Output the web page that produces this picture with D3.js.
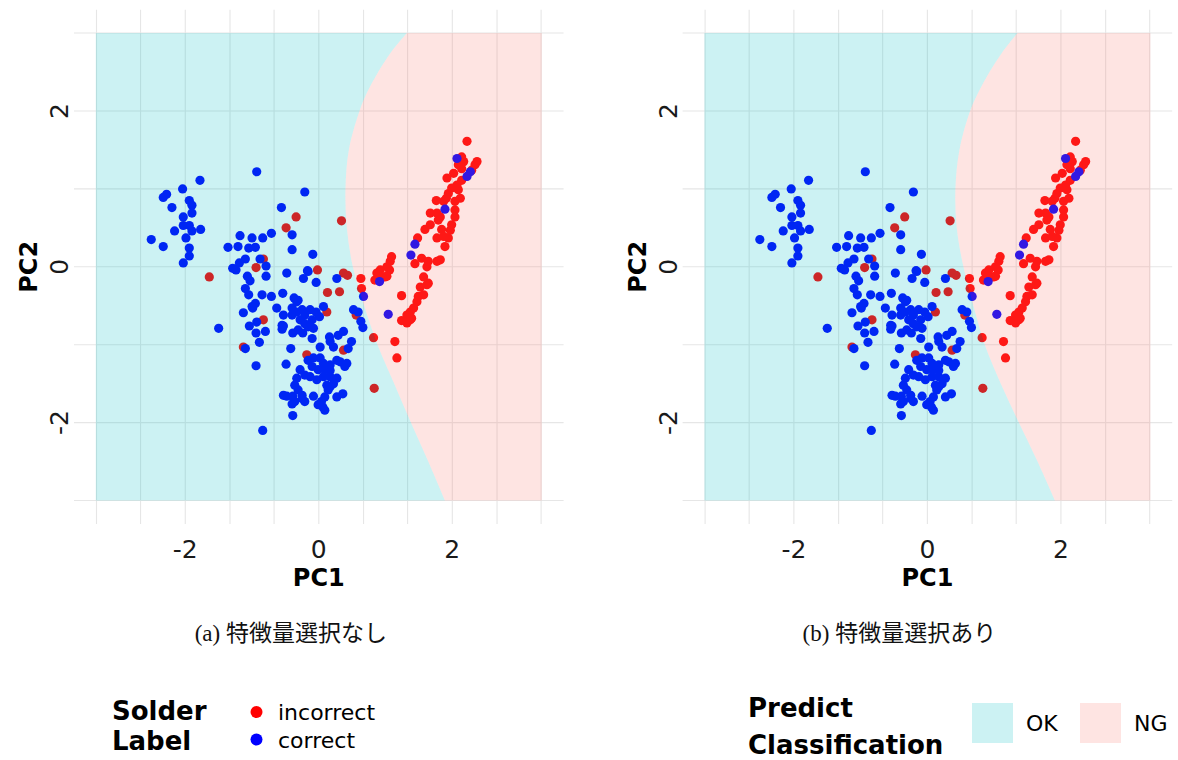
<!DOCTYPE html>
<html>
  <head>
    <meta charset="utf-8">
    <title>PCA decision regions</title>
    <script src="https://cdn.jsdelivr.net/npm/d3@7"></script>
	<style>
body {
  margin: 0;
  background: #fff;
}
.tick-label {
  font: 25px "DejaVu Sans", sans-serif;
  fill: #1a1a1a;
}
.axis-title {
  font: bold 24px "DejaVu Sans", sans-serif;
  fill: #000;
}
.grid line {
  stroke: #e6e6e6;
  stroke-width: 1.1px;
}
.caption {
  font-size: 23px;
  fill: #111;
}
.leg-title {
  font: bold 26px "DejaVu Sans", sans-serif;
}
.leg-text {
  font: 22px "DejaVu Sans", sans-serif;
}
	</style>
  </head>
  <body>
<script>

// points (same data shown in both panels)
var correctX = [-0.93,-1.78,-2.04,-2.28,-2.33,-2.20,-1.94,-1.90,-1.90,-2.03,-2.03,-1.94,-1.90,-1.77,-2.16,-1.99,-2.51,-2.33,-1.94,-1.94,-2.03,
  -0.21,-0.56,-0.40,-0.40,-0.71,-0.84,-1.00,-1.18,-1.36,-1.21,-1.05,-0.95,-1.10,-1.19,-0.88,-0.79,-1.29,-1.24,-0.79,-0.48,-0.17,-0.23,
  -1.07,-1.03,-1.10,-1.05,-0.85,-0.71,-0.54,-0.95,-0.99,-1.13,-0.63,-0.53,-0.37,-0.31,-0.40,-1.04,-0.93,-0.53,-1.50,-0.16,-0.04,0.27,
  0.91,-0.33,0.67,-1.00,-0.94,-0.80,-0.40,-0.33,-0.25,-0.21,-0.13,-0.04,0.07,0.01,0.52,0.59,0.63,0.66,1.04,-0.28,-0.21,-0.10,-0.16,
  -0.55,-0.55,-0.39,-0.31,-0.24,-0.08,-1.10,-0.89,-0.42,-0.10,0.16,0.17,0.22,0.02,0.29,0.37,0.49,0.44,-0.94,-0.49,-0.16,-0.08,0.02,
  0.07,0.17,-0.10,-0.01,0.09,0.17,0.27,0.32,0.39,0.42,-0.28,-0.33,-0.36,-0.21,-0.13,-0.03,0.07,0.17,0.27,0.12,0.17,0.22,-0.31,-0.25,
  0.14,0.09,0.04,0.27,0.36,-0.53,-0.48,-0.39,-0.40,-0.36,-0.21,-0.25,-0.08,-0.01,0.06,0.09,-0.39,-0.84,2.07,2.27,2.22,1.89,1.44,1.38,-0.09];
var correctY = [1.22,1.11,1.00,0.93,0.89,0.76,0.85,0.79,0.69,0.64,0.53,0.53,0.46,0.48,0.46,0.37,0.35,0.26,0.24,0.14,0.05,
  0.96,0.76,0.41,0.22,0.43,0.37,0.37,0.40,0.25,0.26,0.24,0.25,0.10,0.05,0.10,0.01,-0.02,-0.04,-0.12,-0.08,-0.05,-0.15,
  -0.12,-0.18,-0.28,-0.36,-0.36,-0.38,-0.34,-0.47,-0.53,-0.59,-0.53,-0.62,-0.40,-0.43,-0.53,-0.76,-0.71,-0.76,-0.79,-0.06,-0.20,-0.15,
  -0.19,-0.45,-0.38,-0.51,-0.85,-0.83,-0.62,-0.58,-0.55,-0.62,-0.55,-0.58,-0.51,-0.64,-0.55,-0.58,-0.70,-0.78,-0.61,-0.68,-0.73,-0.68,-0.77,
  -0.75,-0.80,-0.85,-0.81,-0.85,-0.79,-1.05,-0.97,-1.05,-0.92,-0.90,-0.96,-1.03,-1.03,-0.88,-0.83,-0.96,-1.05,-1.27,-1.25,-1.20,-1.17,-1.17,
  -1.24,-1.26,-1.28,-1.32,-1.32,-1.33,-1.20,-1.22,-1.28,-1.24,-1.32,-1.43,-1.52,-1.39,-1.41,-1.45,-1.41,-1.41,-1.43,-1.52,-1.54,-1.50,-1.58,-1.65,
  -1.58,-1.67,-1.73,-1.67,-1.63,-1.65,-1.66,-1.66,-1.76,-1.73,-1.73,-1.69,-1.66,-1.77,-1.80,-1.84,-1.91,-2.10,1.39,1.22,1.16,0.74,0.29,0.15,0.16];

var incorrectX = [-0.34,-0.49,-0.83,-0.94,-1.64,-0.83,0.34,-0.02,0.37,0.43,0.13,0.31,0.12,0.56,-1.13,0.37,0.82,-0.18,0.83,
  2.22,2.14,2.17,2.09,2.37,2.34,2.29,2.02,1.92,2.14,2.07,1.99,2.09,1.94,1.91,2.12,2.04,1.76,1.87,2.04,2.04,1.67,1.77,1.82,1.79,
  1.67,1.59,1.84,1.99,1.97,1.77,1.87,1.94,1.89,1.48,1.09,1.07,1.02,0.92,0.89,0.99,0.84,1.44,1.54,1.64,1.77,1.62,1.82,1.57,1.62,
  1.64,1.52,1.24,1.49,1.57,1.47,1.42,1.37,1.32,1.39,1.24,1.32,1.37,1.14,1.17,0.63,0.64,0.87,1.02,1.06,2.14];
var incorrectY = [0.64,0.50,0.10,-0.01,-0.13,-0.68,0.59,-0.04,-0.08,-0.11,-0.33,-0.32,-0.58,-0.62,-1.03,-1.07,-0.91,-1.13,-1.56,
  1.61,1.41,1.35,1.31,1.35,1.31,1.24,1.20,1.14,1.11,1.05,1.01,0.99,0.94,0.88,0.88,0.84,0.85,0.84,0.73,0.64,0.69,0.69,0.64,0.60,
  0.54,0.48,0.48,0.54,0.47,0.37,0.39,0.37,0.26,0.37,0.13,0.07,0.00,-0.04,-0.13,-0.13,-0.17,0.04,0.11,0.07,0.07,0.00,0.09,-0.13,-0.23,
  -0.21,-0.26,-0.37,-0.38,-0.36,-0.45,-0.53,-0.58,-0.62,-0.66,-0.69,-0.72,-0.68,-0.96,-1.17,-0.15,-0.28,-0.08,-0.12,-0.04,1.26];

// decision boundary (PC1 value where OK turns into NG, for each PC2 level)
var boundaryY = [-3, -2.5, -2, -1.5, -1, -0.5, 0, 0.5, 1, 1.5, 2, 2.25, 2.5, 2.75, 3];
var boundaryA = [1.89, 1.64, 1.38, 1.13, 0.88, 0.68, 0.51, 0.42, 0.40, 0.45, 0.61, 0.73, 0.89, 1.08, 1.32];
var boundaryB = [1.91, 1.65, 1.37, 1.10, 0.86, 0.69, 0.54, 0.44, 0.42, 0.48, 0.64, 0.77, 0.93, 1.12, 1.35];

var regionX = [-3.34, 3.34];
var regionY = [-3, 3];

var xTicks = [-2, 0, 2];
var yTicks = [-2, 0, 2];
var xGrid = [-3.33, -2.67, -2, -1.33, -0.67, 0, 0.67, 1.33, 2, 2.67, 3.33];
var yGrid = [-3, -2, -1, 0, 1, 2, 3];

var captions = ["(a) 特徴量選択なし", "(b) 特徴量選択あり"];

var svg = d3.select("body").append("svg")
    .attr("width", 1178)
    .attr("height", 760);

function drawPanel(left, boundary, caption) {
  var x = d3.scaleLinear().domain([-3.667, 3.667]).range([left, left + 489.6]);
  var y = d3.scaleLinear().domain([-3.3, 3.3]).range([523.9, 9.7]);

  var g = svg.append("g");

  var grid = g.append("g").attr("class", "grid");
  grid.selectAll(".gx").data(xGrid).enter().append("line")
      .attr("x1", function(d) { return x(d); })
      .attr("x2", function(d) { return x(d); })
      .attr("y1", y.range()[1])
      .attr("y2", y.range()[0]);
  grid.selectAll(".gy").data(yGrid).enter().append("line")
      .attr("y1", function(d) { return y(d); })
      .attr("y2", function(d) { return y(d); })
      .attr("x1", x.range()[0])
      .attr("x2", x.range()[1]);

  var red = d3.range(incorrectX.length);
  g.selectAll(".ng").data(red).enter().append("circle")
      .attr("cx", function(i) { return x(incorrectX[i]); })
      .attr("cy", function(i) { return y(incorrectY[i]); })
      .attr("r", 4.6)
      .attr("fill", "#ff0000");

  var blue = d3.range(correctX.length);
  g.selectAll(".ok").data(blue).enter().append("circle")
      .attr("cx", function(i) { return x(correctX[i]); })
      .attr("cy", function(i) { return y(correctY[i]); })
      .attr("r", 4.6)
      .attr("fill", "#0000ff");

  // translucent predicted regions laid on top of the points
  var rows = boundaryY.map(function(v, i) { return {y: v, b: boundary[i]}; });

  var okArea = d3.area()
      .curve(d3.curveCatmullRom)
      .y(function(d) { return y(d.y); })
      .x0(x(regionX[0]))
      .x1(function(d) { return x(d.b); });

  var ngArea = d3.area()
      .curve(d3.curveCatmullRom)
      .y(function(d) { return y(d.y); })
      .x0(function(d) { return x(d.b); })
      .x1(x(regionX[1]));

  g.append("path").datum(rows)
      .attr("d", okArea)
      .attr("fill", "#00BFC4")
      .attr("fill-opacity", 0.2);

  g.append("path").datum(rows)
      .attr("d", ngArea)
      .attr("fill", "#F8766D")
      .attr("fill-opacity", 0.2);

  g.selectAll(".xt").data(xTicks).enter().append("text")
      .attr("class", "tick-label")
      .attr("x", function(d) { return x(d); })
      .attr("y", 558)
      .attr("text-anchor", "middle")
      .text(function(d) { return d; });

  g.selectAll(".yt").data(yTicks).enter().append("text")
      .attr("class", "tick-label")
      .attr("transform", function(d) { return "translate(" + (left - 6) + "," + y(d) + ") rotate(-90)"; })
      .attr("text-anchor", "middle")
      .text(function(d) { return d; });

  g.append("text")
      .attr("class", "axis-title")
      .attr("x", x(0))
      .attr("y", 586)
      .attr("text-anchor", "middle")
      .text("PC1");

  g.append("text")
      .attr("class", "axis-title")
      .attr("transform", "translate(" + (left - 37) + "," + y(0) + ") rotate(-90)")
      .attr("text-anchor", "middle")
      .text("PC2");

  var cap = g.append("text")
      .attr("class", "caption")
      .attr("x", x(0) - 28)
      .attr("y", 641)
      .attr("text-anchor", "middle");
  cap.append("tspan")
      .style("font-family", "'Liberation Serif', serif")
      .text(caption.slice(0, 4));
  cap.append("tspan")
      .style("font-family", "'Noto Sans CJK JP', sans-serif")
      .text(caption.slice(4));
}

drawPanel(74, boundaryA, captions[0]);
drawPanel(682.6, boundaryB, captions[1]);

// legend: solder label
var leg1 = svg.append("g");
leg1.append("text").attr("class", "leg-title").attr("x", 112).attr("y", 720).text("Solder");
leg1.append("text").attr("class", "leg-title").attr("x", 112).attr("y", 750).text("Label");
var labels = [{t: "incorrect", c: "#ff0000"}, {t: "correct", c: "#0000ff"}];
labels.forEach(function(d, i) {
  leg1.append("circle").attr("cx", 256.5).attr("cy", 712 + i * 27.5).attr("r", 6).attr("fill", d.c);
  leg1.append("text").attr("class", "leg-text").attr("x", 278).attr("y", 720 + i * 27.5).text(d.t);
});

// legend: predict classification
var leg2 = svg.append("g");
leg2.append("text").attr("class", "leg-title").attr("x", 748).attr("y", 717).text("Predict");
leg2.append("text").attr("class", "leg-title").attr("x", 748).attr("y", 754).text("Classification");
var classes = [{t: "OK", c: "#00BFC4", x: 972}, {t: "NG", c: "#F8766D", x: 1080}];
classes.forEach(function(d) {
  leg2.append("rect").attr("x", d.x).attr("y", 703).attr("width", 41).attr("height", 40)
      .attr("fill", d.c).attr("fill-opacity", 0.2);
  leg2.append("text").attr("class", "leg-text").attr("x", d.x + 54).attr("y", 731).text(d.t);
});

</script>
  </body>
</html>
